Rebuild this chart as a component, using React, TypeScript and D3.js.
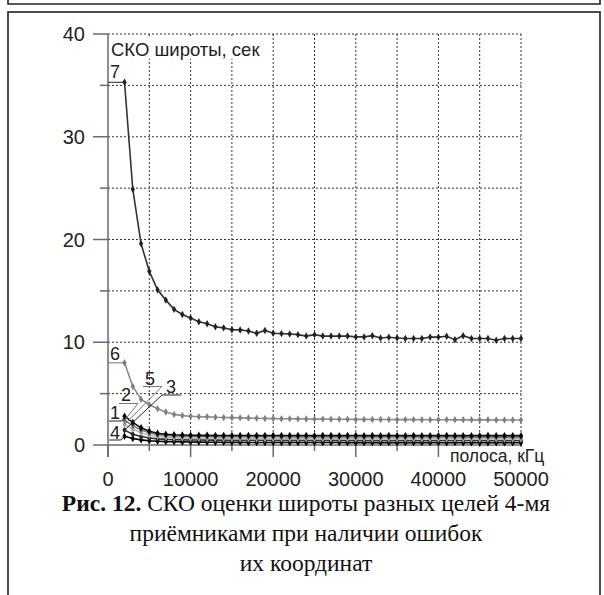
import React from "react";
import * as d3 from "d3";

const bandwidth = [
  2000, 3000, 4000, 5000, 6000, 7000, 8000, 9000, 10000, 11000,
  12000, 13000, 14000, 15000, 16000, 17000, 18000, 19000, 20000, 21000,
  22000, 23000, 24000, 25000, 26000, 27000, 28000, 29000, 30000, 31000,
  32000, 33000, 34000, 35000, 36000, 37000, 38000, 39000, 40000, 41000,
  42000, 43000, 44000, 45000, 46000, 47000, 48000, 49000, 50000,
];

const series7 = [
  35.3, 24.9, 19.6, 16.9, 15.1, 14.1, 13.2, 12.7, 12.35, 12.0,
  11.8, 11.5, 11.4, 11.22, 11.2, 11.1, 10.87, 11.15, 10.87, 10.84,
  10.8, 10.74, 10.6, 10.74, 10.6, 10.6, 10.6, 10.6, 10.52, 10.52,
  10.64, 10.42, 10.48, 10.42, 10.36, 10.36, 10.36, 10.5, 10.5, 10.58,
  10.25, 10.64, 10.36, 10.36, 10.36, 10.2, 10.36, 10.36, 10.36,
];
const series6 = [
  8.0, 5.7, 4.45, 3.92, 3.52, 3.22, 2.98, 2.86, 2.8, 2.75,
  2.74, 2.7, 2.68, 2.66, 2.64, 2.62, 2.6, 2.58, 2.57, 2.56,
  2.55, 2.54, 2.53, 2.52, 2.52, 2.51, 2.5, 2.5, 2.49, 2.49,
  2.48, 2.48, 2.48, 2.47, 2.47, 2.47, 2.46, 2.46, 2.46, 2.46,
  2.45, 2.45, 2.45, 2.45, 2.45, 2.44, 2.44, 2.44, 2.44,
];
const series1 = [
  2.8, 2.2, 1.67, 1.34, 1.15, 1.05, 1.0, 0.97, 0.95, 0.94,
  0.94, 0.93, 0.93, 0.93, 0.92, 0.93, 0.92, 0.92, 0.93, 0.92,
  0.92, 0.92, 0.92, 0.91, 0.92, 0.92, 0.91, 0.92, 0.92, 0.91,
  0.92, 0.91, 0.92, 0.91, 0.91, 0.92, 0.91, 0.91, 0.91, 0.92,
  0.91, 0.91, 0.91, 0.91, 0.92, 0.91, 0.91, 0.91, 0.91,
];
const series2 = [
  2.4, 1.9, 1.45, 1.2, 1.03, 0.94, 0.89, 0.86, 0.84, 0.83,
  0.82, 0.82, 0.81, 0.81, 0.81, 0.8, 0.8, 0.8, 0.8, 0.8,
  0.79, 0.8, 0.79, 0.79, 0.79, 0.79, 0.79, 0.79, 0.78, 0.79,
  0.78, 0.78, 0.78, 0.78, 0.78, 0.78, 0.78, 0.78, 0.78, 0.78,
  0.78, 0.77, 0.78, 0.77, 0.77, 0.77, 0.77, 0.77, 0.77,
];
const series5 = [
  2.0, 1.55, 1.2, 0.98, 0.85, 0.77, 0.72, 0.69, 0.67, 0.66,
  0.65, 0.65, 0.64, 0.64, 0.64, 0.63, 0.63, 0.63, 0.63, 0.63,
  0.63, 0.62, 0.62, 0.62, 0.62, 0.62, 0.62, 0.62, 0.62, 0.62,
  0.61, 0.62, 0.61, 0.61, 0.61, 0.61, 0.61, 0.61, 0.61, 0.61,
  0.61, 0.61, 0.61, 0.6, 0.61, 0.6, 0.6, 0.6, 0.6,
];
const series3 = [
  1.45, 1.05, 0.82, 0.68, 0.6, 0.55, 0.52, 0.5, 0.49, 0.48,
  0.47, 0.47, 0.47, 0.46, 0.46, 0.46, 0.46, 0.46, 0.45, 0.45,
  0.45, 0.45, 0.45, 0.45, 0.45, 0.45, 0.45, 0.44, 0.45, 0.44,
  0.44, 0.44, 0.44, 0.44, 0.44, 0.44, 0.44, 0.44, 0.44, 0.44,
  0.44, 0.44, 0.43, 0.44, 0.43, 0.43, 0.43, 0.43, 0.43,
];
const series4 = [
  0.85, 0.63, 0.5, 0.42, 0.37, 0.33, 0.31, 0.3, 0.29, 0.28,
  0.27, 0.27, 0.26, 0.26, 0.26, 0.25, 0.25, 0.25, 0.25, 0.25,
  0.24, 0.24, 0.24, 0.24, 0.24, 0.24, 0.24, 0.23, 0.24, 0.23,
  0.23, 0.23, 0.23, 0.23, 0.23, 0.23, 0.23, 0.23, 0.23, 0.22,
  0.23, 0.22, 0.22, 0.22, 0.22, 0.22, 0.22, 0.22, 0.22,
];

const xTickLabels = [0, 10000, 20000, 30000, 40000, 50000];
const yTickLabels = [0, 10, 20, 30, 40];
const yTitle = "СКО широты, сек";
const xTitle = "полоса, кГц";
const captionBold = "Рис. 12.";
const captionLines = [
  " СКО оценки широты разных целей 4-мя",
  "приёмниками при наличии ошибок",
  "их координат",
];

type Lbl = { name: string; values: number[]; line: string; mark: string; width: number };
const seriesList: Lbl[] = [
  { name: "4", values: series4, line: "#000", mark: "#000", width: 1.6 },
  { name: "3", values: series3, line: "#333", mark: "#222", width: 1.6 },
  { name: "5", values: series5, line: "#b8b8b8", mark: "#aaa", width: 1.6 },
  { name: "2", values: series2, line: "#7a7a7a", mark: "#6a6a6a", width: 1.6 },
  { name: "1", values: series1, line: "#111", mark: "#000", width: 1.6 },
  { name: "6", values: series6, line: "#8c8c8c", mark: "#808080", width: 1.6 },
  { name: "7", values: series7, line: "#333", mark: "#222", width: 1.6 },
];

const labelLayout: Record<string, { tx: number; ty: number; ux0: number; ux1: number; uy: number; from: "l" | "r" }> = {
  "7": { tx: 110, ty: 78, ux0: 108, ux1: 0, uy: NaN, from: "r" },
  "6": { tx: 110, ty: 360, ux0: 108, ux1: 0, uy: NaN, from: "r" },
  "1": { tx: 110, ty: 419, ux0: 109, ux1: 122, uy: 421, from: "r" },
  "4": { tx: 110, ty: 438.5, ux0: 109, ux1: 121, uy: 440, from: "r" },
  "2": { tx: 121, ty: 401, ux0: 119, ux1: 138, uy: 403.5, from: "r" },
  "5": { tx: 145, ty: 384.5, ux0: 143, ux1: 162, uy: 386.5, from: "r" },
  "3": { tx: 166, ty: 393, ux0: 162, ux1: 181, uy: 395, from: "l" },
};

export default function App() {
  const x = d3.scaleLinear().domain([0, 50000]).range([108, 521]);
  const y = d3.scaleLinear().domain([0, 40]).range([445, 34]);
  const gridX = d3.range(5000, 50001, 5000);
  const gridY = d3.range(5, 41, 5);
  const minorX = d3.range(5000, 50001, 10000);
  const minorY = d3.range(5, 41, 10);
  const line = d3
    .line<number>()
    .x((_, i) => x(bandwidth[i]))
    .y((d) => y(d));
  const diamond = d3.symbol().type(d3.symbolDiamond).size(16)() as string;
  const axisColor = "#6a6a6a";
  const font = "Arial, 'Liberation Sans', sans-serif";
  const serif = "'Liberation Serif', 'Times New Roman', serif";

  return (
    <div style={{ position: "absolute", left: 0, top: 0 }}>
      <svg width={604} height={595} style={{ display: "block", background: "#fff" }}>
        <path d="M8,-2 V4 H600 V-2" fill="none" stroke="#222" strokeWidth={1.6} />
        <rect x={8} y={12} width={592} height={620} fill="none" stroke="#222" strokeWidth={1.6} />

        {gridX.map((v) => (
          <line key={"gx" + v} x1={x(v)} x2={x(v)} y1={y(40)} y2={y(0)} stroke="#333" strokeWidth={1} strokeDasharray="2,2" />
        ))}
        {gridY.map((v) => (
          <line key={"gy" + v} x1={x(0)} x2={x(50000)} y1={y(v)} y2={y(v)} stroke="#333" strokeWidth={1} strokeDasharray="2,2" />
        ))}

        <line x1={x(0)} x2={x(0)} y1={y(40)} y2={y(0) + 12} stroke={axisColor} strokeWidth={1.5} />
        <line x1={x(0)} x2={x(50000)} y1={y(0)} y2={y(0)} stroke={axisColor} strokeWidth={1.5} />
        {xTickLabels.map((v) => (
          <line key={"xt" + v} x1={x(v)} x2={x(v)} y1={y(0)} y2={y(0) + 12} stroke={axisColor} strokeWidth={1.5} />
        ))}
        {minorX.map((v) => (
          <line key={"xm" + v} x1={x(v)} x2={x(v)} y1={y(0)} y2={y(0) + 6} stroke={axisColor} strokeWidth={1.5} />
        ))}
        {yTickLabels.map((v) => (
          <line key={"yt" + v} x1={x(0) - 15} x2={x(0)} y1={y(v)} y2={y(v)} stroke={axisColor} strokeWidth={1.5} />
        ))}
        {minorY.map((v) => (
          <line key={"ym" + v} x1={x(0) - 8} x2={x(0)} y1={y(v)} y2={y(v)} stroke={axisColor} strokeWidth={1.5} />
        ))}
        {yTickLabels.map((v) => (
          <text key={"yl" + v} x={85} y={y(v) + 7} textAnchor="end" fontFamily={font} fontSize={20} fill="#222">
            {v}
          </text>
        ))}
        {xTickLabels.map((v) => (
          <text key={"xl" + v} x={x(v)} y={486} textAnchor="middle" fontFamily={font} fontSize={20} fill="#222">
            {v}
          </text>
        ))}

        {seriesList.map((s) => (
          <g key={"s" + s.name}>
            <path d={line(s.values) as string} fill="none" stroke={s.line} strokeWidth={s.width} />
            {s.values.map((v, i) => (
              <path key={i} d={diamond} transform={`translate(${x(bandwidth[i])},${y(v)})`} fill={s.mark} />
            ))}
          </g>
        ))}

        {seriesList.map((s) => {
          const L = labelLayout[s.name];
          const px = x(bandwidth[0]);
          const py = y(s.values[0]);
          const stroke = s.name === "6" || s.name === "5" || s.name === "2" ? "#777" : "#222";
          if (isNaN(L.uy)) {
            return (
              <g key={"l" + s.name}>
                <line x1={L.ux0} x2={px} y1={py} y2={py} stroke={stroke} strokeWidth={1} />
                <text x={L.tx} y={L.ty} fontFamily={font} fontSize={18} fill="#222">{s.name}</text>
              </g>
            );
          }
          const sx = L.from === "r" ? L.ux1 : L.ux0;
          return (
            <g key={"l" + s.name}>
              <line x1={L.ux0} x2={L.ux1} y1={L.uy} y2={L.uy} stroke={stroke} strokeWidth={1} />
              <line x1={sx} x2={px} y1={L.uy} y2={py} stroke={stroke} strokeWidth={1} />
              <text x={L.tx} y={L.ty} fontFamily={font} fontSize={18} fill="#222">{s.name}</text>
            </g>
          );
        })}

        <rect x={109} y={37} width={156} height={22} fill="#fff" />
        <text x={111} y={56} fontFamily={font} fontSize={18.5} fill="#222">{yTitle}</text>
        <rect x={447} y={447} width={106} height={20} fill="#fff" />
        <text x={450} y={462} fontFamily={font} fontSize={17.5} fill="#222">{xTitle}</text>

        <text x={306} y={511} textAnchor="middle" fontFamily={serif} fontSize={23.5} fill="#111">
          <tspan fontWeight="bold">{captionBold}</tspan>
          <tspan>{captionLines[0]}</tspan>
        </text>
        <text x={306} y={541} textAnchor="middle" fontFamily={serif} fontSize={23.5} fill="#111">
          {captionLines[1]}
        </text>
        <text x={306} y={571} textAnchor="middle" fontFamily={serif} fontSize={23.5} fill="#111">
          {captionLines[2]}
        </text>
      </svg>
    </div>
  );
}
